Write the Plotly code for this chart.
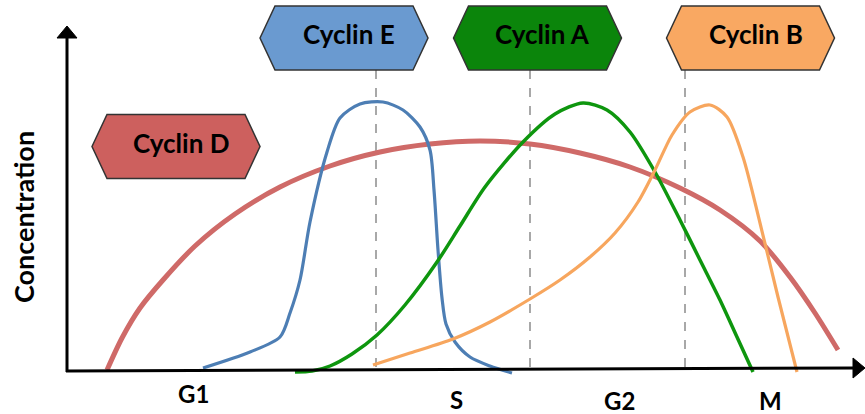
import plotly.graph_objects as go

# ---- data (diagram coordinates: x to the right, y downward) ----
cyclin_d_x = [107, 122, 140, 163, 195, 235, 280, 330, 380, 430, 480, 530, 580, 630, 680, 720, 760, 790, 815, 838]
cyclin_d_y = [370, 338, 308, 280, 246, 214, 187, 166, 152, 144, 141, 144, 153, 167, 188, 210, 241, 277, 313, 350]

cyclin_e_x = [203, 250, 280, 290, 300, 310, 327, 340, 360, 383, 403, 420, 430, 434, 438, 442, 446, 455, 470, 490, 512]
cyclin_e_y = [368, 352, 337, 313, 280, 222, 152, 118, 104, 102, 110, 127, 150, 190, 250, 298, 324, 342, 357, 366, 373]

cyclin_a_x = [295, 312, 330, 352, 377, 405, 437, 460, 485, 523, 555, 583, 607, 630, 655, 680, 700, 720, 737, 753]
cyclin_a_y = [372, 371, 366, 354, 335, 305, 262, 226, 187, 142, 114, 103, 110, 132, 172, 220, 260, 300, 337, 372]

cyclin_b_x = [373, 410, 453, 490, 530, 560, 590, 615, 638, 655, 672, 690, 710, 727, 743, 760, 778, 797]
cyclin_b_y = [365, 353, 339, 322, 299, 280, 257, 233, 202, 170, 135, 112, 105, 117, 157, 223, 297, 372]

cyclin_names = ["Cyclin D", "Cyclin E", "Cyclin A", "Cyclin B"]
label_cx = [176, 344, 537.5, 750.5]
label_cy = [146.5, 38, 38, 38]

phase_names = ["G1", "S", "G2", "M"]
phase_x = [193, 456, 619, 770]
phase_y = [393, 399, 400, 400]

transition_x = [376, 530, 685]

# ---- styles ----
line_colors = ["#CF6A68", "#4D7EB4", "#0E960E", "#F7A65E"]
line_widths = [5, 3.2, 3.5, 3.2]
fill_colors = ["#CD605E", "#6A9AD0", "#0B850B", "#F9A862"]

fig = go.Figure()

series = [(cyclin_d_x, cyclin_d_y), (cyclin_e_x, cyclin_e_y), (cyclin_a_x, cyclin_a_y), (cyclin_b_x, cyclin_b_y)]
for i in range(4):
    xs, ys = series[i]
    fig.add_trace(go.Scatter(x=xs, y=ys, mode="lines", name=cyclin_names[i],
                             line=dict(color=line_colors[i], width=line_widths[i], shape="spline", smoothing=0.8),
                             hoverinfo="skip", showlegend=False))

shapes = []
# dashed transition lines
for tx in transition_x:
    shapes.append(dict(type="line", xref="x", yref="y", x0=tx, x1=tx, y0=70, y1=369,
                       line=dict(color="#A8A8A8", width=2, dash="dash"), layer="below"))

# axes with arrowheads
shapes.append(dict(type="line", xref="x", yref="y", x0=67, x1=67, y0=372, y1=36,
                   line=dict(color="black", width=3)))
shapes.append(dict(type="path", xref="x", yref="y", path="M 57,38 L 67,26 L 77,38 Z",
                   fillcolor="black", line=dict(color="black", width=1)))
shapes.append(dict(type="line", xref="x", yref="y", x0=66, x1=855, y0=371, y1=368,
                   line=dict(color="black", width=3)))
shapes.append(dict(type="path", xref="x", yref="y", path="M 853,358 L 865,368 L 853,378 Z",
                   fillcolor="black", line=dict(color="black", width=1)))

# hexagon labels
hw, hh, hd = 84, 32, 15
for name, cx, cy, fc in zip(cyclin_names, label_cx, label_cy, fill_colors):
    p = (f"M {cx-hw},{cy} L {cx-hw+hd},{cy-hh} L {cx+hw-hd},{cy-hh} L {cx+hw},{cy} "
         f"L {cx+hw-hd},{cy+hh} L {cx-hw+hd},{cy+hh} Z")
    shapes.append(dict(type="path", xref="x", yref="y", path=p, fillcolor=fc,
                       line=dict(color="#333333", width=1.5)))

annotations = []
for name, cx, cy in zip(cyclin_names, label_cx, label_cy):
    annotations.append(dict(x=cx + 5, y=cy - 4, xref="x", yref="y", text=f"<b>{name}</b>",
                            showarrow=False, font=dict(family="Lato", size=26, color="black")))
for name, px, py in zip(phase_names, phase_x, phase_y):
    annotations.append(dict(x=px, y=py, xref="x", yref="y", text=f"<b>{name}</b>",
                            showarrow=False, font=dict(family="Lato", size=24, color="black")))
annotations.append(dict(x=23, y=217, xref="x", yref="y", text="<b>Concentration</b>", textangle=-90,
                        showarrow=False, font=dict(family="Lato", size=27, color="black")))

fig.update_layout(
    width=865, height=414,
    margin=dict(l=0, r=0, t=0, b=0),
    paper_bgcolor="white", plot_bgcolor="white",
    xaxis=dict(range=[0, 865], visible=False, fixedrange=True),
    yaxis=dict(range=[414, 0], visible=False, fixedrange=True),
    shapes=shapes, annotations=annotations, showlegend=False,
)

fig.write_html("out.html", config={"displayModeBar": False},
               post_script="document.body.style.margin='0';document.body.style.overflow='hidden';")
